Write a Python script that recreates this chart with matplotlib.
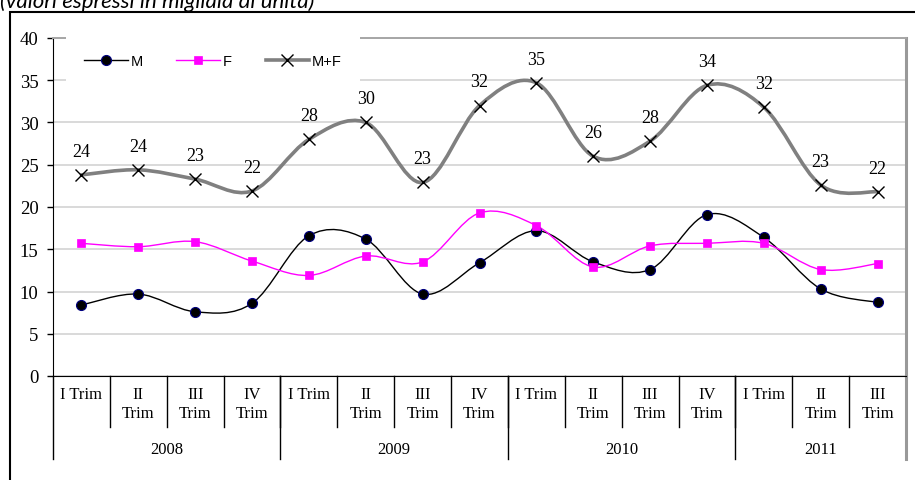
import numpy as np
import matplotlib
matplotlib.use("Agg")
import matplotlib.pyplot as plt
from matplotlib.path import Path
from matplotlib.patches import PathPatch, Rectangle
from matplotlib.lines import Line2D
import matplotlib.transforms as mtransforms

quarters = ["I Trim", "II\nTrim", "III\nTrim", "IV\nTrim",
            "I Trim", "II\nTrim", "III\nTrim", "IV\nTrim",
            "I Trim", "II\nTrim", "III\nTrim", "IV\nTrim",
            "I Trim", "II\nTrim", "III\nTrim"]
years = ["2008", "2009", "2010", "2011"]
quarters_per_year = [4, 4, 4, 3]

m_vals = [8.4, 9.7, 7.6, 8.6, 16.6, 16.2, 9.7, 13.4, 17.2, 13.5, 12.6, 19.1, 16.4, 10.3, 8.7]
f_vals = [15.7, 15.3, 15.9, 13.6, 11.9, 14.2, 13.5, 19.3, 17.8, 12.9, 15.4, 15.7, 15.7, 12.6, 13.3]
mf_vals = [23.8, 24.4, 23.3, 21.9, 28.0, 30.0, 22.9, 32.0, 34.7, 26.0, 27.8, 34.4, 31.8, 22.6, 21.8]

serif = "Liberation Serif"


def smooth_path(x, y):
    # cubic bezier through every point, control points from neighbours
    pts = np.column_stack([x, y])
    n = len(pts)
    verts = [pts[0]]
    codes = [Path.MOVETO]
    for i in range(n - 1):
        p0 = pts[max(i - 1, 0)]
        p1 = pts[i]
        p2 = pts[i + 1]
        p3 = pts[min(i + 2, n - 1)]
        c1 = p1 + (p2 - p0) / 6.0
        c2 = p2 - (p3 - p1) / 6.0
        verts += [c1, c2, p2]
        codes += [Path.CURVE4] * 3
    return Path(verts, codes)


W, H = 915, 481
fig = plt.figure(figsize=(W / 100, H / 100), dpi=100)
ax = fig.add_axes([53 / W, 1 - 377 / H, (906 - 53) / W, (377 - 39) / H])

x = np.arange(len(quarters))

series = [
    (m_vals, "M", dict(color="black", lw=1.0),
     dict(marker="o", ms=7.2, mfc="black", mec="#000080", mew=0.8)),
    (f_vals, "F", dict(color="#ff00ff", lw=1.0),
     dict(marker="s", ms=6.0, mfc="#ff00ff", mec="#ff00ff", mew=0.5)),
    (mf_vals, "M+F", dict(color="#808080", lw=2.6),
     dict(marker="x", ms=8.5, mfc="black", mec="black", mew=1.0)),
]

handles = []
for vals, name, line_kw, mark_kw in series:
    ax.add_patch(PathPatch(smooth_path(x, vals), fill=False, ec=line_kw["color"],
                           lw=line_kw["lw"], zorder=3, capstyle="round"))
    ax.plot(x, vals, ls="none", zorder=4, **mark_kw)
    handles.append(Line2D([], [], label=name, **line_kw, **mark_kw))

for xi, v in zip(x, mf_vals):
    ax.annotate(f"{v:.0f}", (xi, v), xytext=(0, 17), textcoords="offset points",
                ha="center", va="center", fontsize=13, family=serif, zorder=5)

ax.set_xlim(-0.5, len(quarters) - 0.5)
ax.set_ylim(0, 40)
ax.set_yticks(range(0, 41, 5))
ax.yaxis.grid(True, color="#d9d9d9", lw=1.4)
ax.set_axisbelow(True)
ax.tick_params(axis="y", length=4, width=1, pad=6.5, labelsize=13.5)
for lbl in ax.get_yticklabels():
    lbl.set_family(serif)
ax.set_xticks([])

ax.spines["left"].set_color("black")
ax.spines["bottom"].set_color("black")
ax.spines["top"].set_color("#a6a6a6")
ax.spines["top"].set_linewidth(1.4)
ax.spines["right"].set_color("#999999")
ax.spines["right"].set_linewidth(2.2)

# two-level category axis under the plot
trans = mtransforms.blended_transform_factory(ax.transData, ax.transAxes)
for i, q in enumerate(quarters):
    ax.text(i, -0.03, q, transform=trans, ha="center", va="top", fontsize=12,
            family=serif, linespacing=1.25)
for b in range(1, len(quarters)):
    ax.plot([b - 0.5, b - 0.5], [0, -0.151], transform=trans, color="black",
            lw=1, clip_on=False)

start = 0
bounds = [-0.5]
for yr, n in zip(years, quarters_per_year):
    ax.text(start + (n - 1) / 2, -0.216, yr, transform=trans, ha="center",
            va="center", fontsize=12, family=serif)
    start += n
    bounds.append(start - 0.5)
for b in bounds[:-1]:
    ax.plot([b, b], [0, -0.246], transform=trans, color="black", lw=1, clip_on=False)
ax.plot([bounds[-1], bounds[-1]], [0, -0.246], transform=trans, color="#999999",
        lw=2.2, clip_on=False)

leg = ax.legend(handles=handles, loc="center", ncol=3,
                bbox_to_anchor=(213 / W, 1 - 62 / H), bbox_transform=fig.transFigure,
                frameon=True, fancybox=False, facecolor="white", edgecolor="none",
                framealpha=1, prop={"family": "Liberation Sans", "size": 10.5},
                handlelength=3.0, handletextpad=0.2, columnspacing=2.3,
                borderpad=1.25, numpoints=1)
leg.set_zorder(6)

# outer frame and caption
fig.patches.append(Rectangle((10 / W, -0.1), 1.0, 1 - 13 / H + 0.1,
                             transform=fig.transFigure, fill=False, ec="black", lw=1.5))
fig.text(0.0, 1 - 8.5 / H, "(valori espressi in migliaia di unità)", style="italic",
         family="Lato", fontsize=16, va="baseline", ha="left")

fig.savefig("out.png", dpi=100)
